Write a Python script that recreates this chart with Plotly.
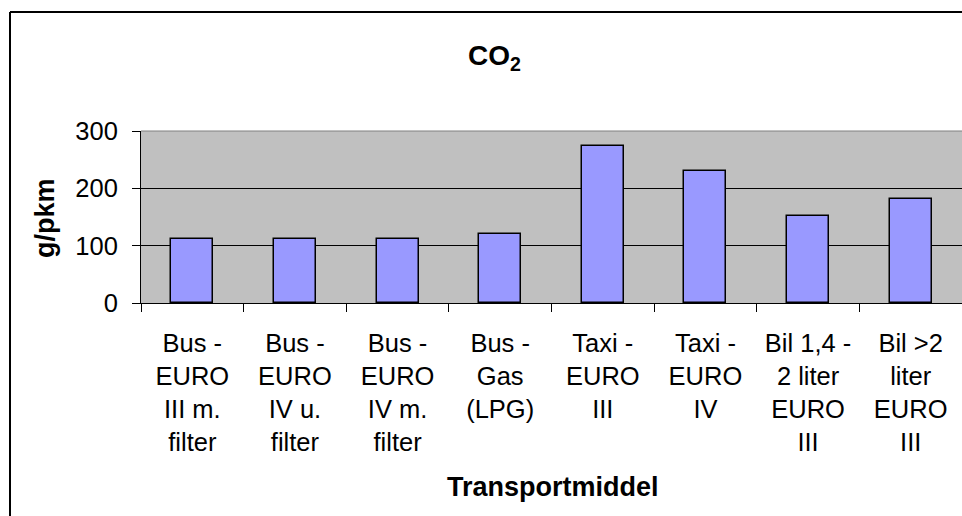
import plotly.graph_objects as go

categories = [
    "Bus -<br>EURO<br>III m.<br>filter",
    "Bus -<br>EURO<br>IV u.<br>filter",
    "Bus -<br>EURO<br>IV m.<br>filter",
    "Bus -<br>Gas<br>(LPG)",
    "Taxi -<br>EURO<br>III",
    "Taxi -<br>EURO<br>IV",
    "Bil 1,4 -<br>2 liter<br>EURO<br>III",
    "Bil >2<br>liter<br>EURO<br>III",
]
values = [112, 112, 112, 121, 273, 230, 152, 182]
y_ticks = [0, 100, 200, 300]

FONT = "Liberation Sans, Arial, sans-serif"

fig = go.Figure()
fig.add_trace(go.Bar(
    x=categories, y=values, width=0.41,
    marker=dict(color="#9999FF", line=dict(color="black", width=1.5)),
))

W, H = 962, 516
L, R, T, B = 141, 0, 131, 213
pw = W - L - R
ph = H - T - B

def px_x(x):
    return (x - L) / pw

def px_y(y):
    return (H - B - y) / ph

fig.update_layout(
    width=W, height=H,
    margin=dict(l=L, r=R, t=T, b=B),
    paper_bgcolor="white", plot_bgcolor="#C0C0C0",
    showlegend=False,
    bargap=0,
    font=dict(family=FONT, color="black", size=25),
    xaxis=dict(
        type="category", showline=True, linecolor="black", linewidth=1,
        ticks="outside", tickson="boundaries", ticklen=8, tickcolor="black",
        tickfont=dict(size=25.5), showgrid=False, ticklabelstandoff=17,
    ),
    yaxis=dict(
        range=[0, 300], tickvals=y_ticks, showline=True, linecolor="black",
        linewidth=1, ticks="outside", ticklen=8, tickcolor="black",
        showgrid=True, gridcolor="black", gridwidth=1, zeroline=False,
        tickfont=dict(size=25.5), ticklabelstandoff=9,
    ),
    annotations=[
        dict(text="<b>CO<sub>2</sub></b>", xref="paper", yref="paper",
             x=px_x(494), y=px_y(58), showarrow=False,
             xanchor="center", yanchor="middle", font=dict(size=28)),
        dict(text="<b>Transportmiddel</b>", xref="paper", yref="paper",
             x=px_x(553), y=px_y(487), showarrow=False,
             xanchor="center", yanchor="middle", font=dict(size=27)),
        dict(text="<b>g/pkm</b>", xref="paper", yref="paper",
             x=px_x(45), y=px_y(218), showarrow=False, textangle=-90,
             xanchor="center", yanchor="middle", font=dict(size=27)),
    ],
    shapes=[
        dict(type="line", xref="paper", yref="paper",
             x0=px_x(10), x1=px_x(10), y0=px_y(12), y1=px_y(530),
             line=dict(color="black", width=2)),
        dict(type="line", xref="paper", yref="paper",
             x0=px_x(10), x1=px_x(975), y0=px_y(12), y1=px_y(12),
             line=dict(color="black", width=2)),
        dict(type="line", xref="paper", yref="paper",
             x0=0, x1=1, y0=1, y1=1,
             line=dict(color="#808080", width=1)),
    ],
)

fig.write_html(
    "out.html",
    config={"displayModeBar": False},
    post_script="document.body.style.margin='0';document.body.style.overflow='hidden';",
)
